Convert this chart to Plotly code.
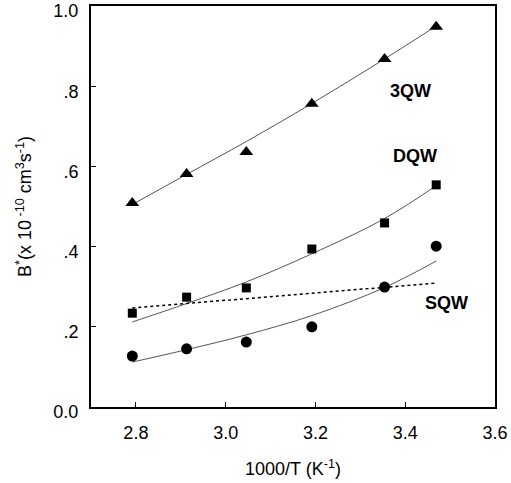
import plotly.graph_objects as go

# Data
x_pts = [2.792, 2.913, 3.046, 3.192, 3.354, 3.469]
qw3 = [0.509, 0.581, 0.636, 0.756, 0.868, 0.948]
dqw = [0.234, 0.274, 0.297, 0.394, 0.459, 0.554]
sqw = [0.127, 0.145, 0.162, 0.200, 0.299, 0.401]

# Fitted curves
fit_x = [2.792, 2.913, 3.046, 3.192, 3.354, 3.469]
fit_3qw = [0.505, 0.580, 0.662, 0.757, 0.868, 0.950]
fit_dqw = [0.212, 0.258, 0.312, 0.382, 0.470, 0.552]
fit_sqw = [0.112, 0.143, 0.180, 0.228, 0.298, 0.364]
dot_x = [2.792, 3.469]
dot_y = [0.247, 0.309]

x_ticks = [2.8, 3.0, 3.2, 3.4, 3.6]
x_ticklabels = ["2.8", "3.0", "3.2", "3.4", "3.6"]
y_ticks = [0.0, 0.2, 0.4, 0.6, 0.8, 1.0]
y_ticklabels = ["0.0", ".2", ".4", ".6", ".8", "1.0"]

labels = ["3QW", "DQW", "SQW"]
label_x = [3.411, 3.422, 3.491]
label_y = [0.788, 0.626, 0.259]

fig = go.Figure()
line_style = dict(color="#555555", width=1, shape="spline")
for fy in (fit_3qw, fit_dqw, fit_sqw):
    fig.add_trace(go.Scatter(x=fit_x, y=fy, mode="lines", line=line_style,
                             showlegend=False, hoverinfo="skip"))
fig.add_trace(go.Scatter(x=dot_x, y=dot_y, mode="lines",
                         line=dict(color="black", width=1.5, dash="dot"),
                         showlegend=False))
fig.add_trace(go.Scatter(x=x_pts, y=qw3, mode="markers",
                         marker=dict(symbol="triangle-up", size=12, color="black"),
                         showlegend=False))
fig.add_trace(go.Scatter(x=x_pts, y=dqw, mode="markers",
                         marker=dict(symbol="square", size=9, color="black"),
                         showlegend=False))
fig.add_trace(go.Scatter(x=x_pts, y=sqw, mode="markers",
                         marker=dict(symbol="circle", size=11, color="black"),
                         showlegend=False))

for t, lx, ly in zip(labels, label_x, label_y):
    fig.add_annotation(x=lx, y=ly, text="<b>%s</b>" % t, showarrow=False,
                       font=dict(family="Liberation Sans, Arial", size=18, color="black"))

font = dict(family="Liberation Sans, Arial", size=18, color="black")
fig.update_layout(
    width=511, height=483,
    margin=dict(l=91, r=16, t=6, b=76, autoexpand=False),
    paper_bgcolor="white", plot_bgcolor="white",
    font=font,
    xaxis=dict(range=[2.7, 3.6], tickvals=x_ticks, ticktext=x_ticklabels,
               ticks="inside", ticklen=5, tickwidth=1, tickcolor="black",
               showline=True, linewidth=2, linecolor="black", mirror=True,
               showgrid=False, zeroline=False, automargin=False,
               ticklabelstandoff=8, tickfont=font,
               title=dict(text="1000/T (K<sup>-1</sup>)", standoff=21, font=font)),
    yaxis=dict(range=[0, 1.0], tickvals=y_ticks, ticktext=y_ticklabels,
               ticks="inside", ticklen=5, tickwidth=1, tickcolor="black",
               showline=True, linewidth=2, linecolor="black", mirror=True,
               showgrid=False, zeroline=False, automargin=False,
               ticklabelstandoff=7, ticklabelshift=5, tickfont=font,
               title=dict(text="B<sup>*</sup>(x 10<sup> -10</sup> cm<sup>3</sup>s<sup>-1</sup>)",
                          standoff=17, font=font)),
)
fig.write_html("out.html", config={"displayModeBar": False},
               post_script="document.body.style.margin='0';")
